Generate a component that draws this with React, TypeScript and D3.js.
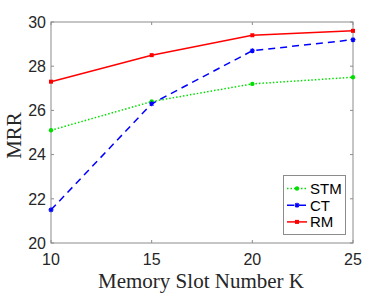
import React, { useEffect, useRef } from 'react';
import * as d3 from 'd3';

const slots = [10, 15, 20, 25];
const stm = [25.1, 26.4, 27.2, 27.5];
const ct = [21.5, 26.3, 28.7, 29.2];
const rm = [27.3, 28.5, 29.4, 29.6];
const yTicks = [20, 22, 24, 26, 28, 30];

const series = [
	{ name: 'STM', values: stm, color: '#00e000', dash: '1.5,2', marker: 'dot' },
	{ name: 'CT', values: ct, color: '#0000ff', dash: '7,5', marker: 'star' },
	{ name: 'RM', values: rm, color: '#ff0000', dash: null, marker: 'square' },
];

function App() {
	const svgRef = useRef(null);

	useEffect(() => {
		const w = 390;
		const h = 293;
		const m = { left: 51, right: 37, top: 22, bottom: 50 };
		const svg = d3.select(svgRef.current)
			.attr('width', w)
			.attr('height', h);
		svg.selectAll('*').remove();

		const x = d3.scaleLinear().domain([10, 25]).range([m.left, w - m.right]);
		const y = d3.scaleLinear().domain([20, 30]).range([h - m.bottom, m.top]);
		const axisColor = '#8c8c8c';
		const textColor = '#262626';
		const sans = 'Liberation Sans, Arial, sans-serif';
		const serif = 'Liberation Serif, Times New Roman, serif';

		// frame
		svg.append('rect')
			.attr('x', m.left).attr('y', m.top)
			.attr('width', w - m.left - m.right).attr('height', h - m.top - m.bottom)
			.attr('fill', 'white').attr('stroke', axisColor).attr('stroke-width', 1);

		// ticks (inward)
		slots.forEach(v => {
			svg.append('line').attr('x1', x(v)).attr('x2', x(v))
				.attr('y1', y(20)).attr('y2', y(20) - 3).attr('stroke', axisColor);
			svg.append('line').attr('x1', x(v)).attr('x2', x(v))
				.attr('y1', y(30)).attr('y2', y(30) + 3).attr('stroke', axisColor);
			svg.append('text').attr('x', x(v)).attr('y', y(20) + 22)
				.attr('text-anchor', 'middle').attr('font-family', sans)
				.attr('font-size', 16).attr('fill', textColor).text(v);
		});
		yTicks.forEach(v => {
			svg.append('line').attr('x1', x(10)).attr('x2', x(10) + 3)
				.attr('y1', y(v)).attr('y2', y(v)).attr('stroke', axisColor);
			svg.append('line').attr('x1', x(25)).attr('x2', x(25) - 3)
				.attr('y1', y(v)).attr('y2', y(v)).attr('stroke', axisColor);
			svg.append('text').attr('x', x(10) - 5).attr('y', y(v))
				.attr('dy', '0.36em')
				.attr('text-anchor', 'end').attr('font-family', sans)
				.attr('font-size', 16).attr('fill', textColor).text(v);
		});

		// axis labels
		svg.append('text').attr('x', (m.left + w - m.right) / 2 - 1).attr('y', 288)
			.attr('text-anchor', 'middle').attr('font-family', serif)
			.attr('font-size', 21).attr('fill', textColor).text('Memory Slot Number K');
		svg.append('text')
			.attr('transform', `translate(21,${(m.top + h - m.bottom) / 2 + 3}) rotate(-90)`)
			.attr('text-anchor', 'middle').attr('font-family', serif)
			.attr('font-size', 21).attr('fill', textColor).text('MRR');

		const line = d3.line<number>()
			.x((d, i) => x(slots[i]))
			.y(d => y(d));

		const drawMarker = (g, kind, cx, cy, color) => {
			if (kind === 'dot') {
				g.append('circle').attr('cx', cx).attr('cy', cy).attr('r', 2.2).attr('fill', color);
			} else if (kind === 'star') {
				g.append('path')
					.attr('d', `M${cx - 2.5},${cy}H${cx + 2.5}M${cx},${cy - 2.5}V${cy + 2.5}M${cx - 1.8},${cy - 1.8}L${cx + 1.8},${cy + 1.8}M${cx - 1.8},${cy + 1.8}L${cx + 1.8},${cy - 1.8}`)
					.attr('stroke', color).attr('stroke-width', 1.2);
			} else {
				g.append('rect').attr('x', cx - 2).attr('y', cy - 2).attr('width', 4).attr('height', 4)
					.attr('fill', color);
			}
		};

		series.forEach(s => {
			const g = svg.append('g');
			g.append('path')
				.attr('d', line(s.values))
				.attr('fill', 'none')
				.attr('stroke', s.color)
				.attr('stroke-width', 1.5)
				.attr('stroke-dasharray', s.dash);
			s.values.forEach((v, i) => drawMarker(g, s.marker, x(slots[i]), y(v), s.color));
		});

		// legend
		const lg = svg.append('g');
		lg.append('rect').attr('x', 283.5).attr('y', 175.5).attr('width', 62).attr('height', 59)
			.attr('fill', 'white').attr('stroke', axisColor);
		series.forEach((s, i) => {
			const ly = 188.5 + i * 16.7;
			lg.append('line').attr('x1', 287).attr('x2', 307).attr('y1', ly).attr('y2', ly)
				.attr('stroke', s.color).attr('stroke-width', 1.5).attr('stroke-dasharray', s.dash);
			drawMarker(lg, s.marker, 297, ly, s.color);
			lg.append('text').attr('x', 310).attr('y', ly).attr('dy', '0.36em')
				.attr('font-family', sans).attr('font-size', 15)
				.attr('fill', '#000').text(s.name);
		});
	}, []);

	return (
		<div style={{ position: 'absolute', left: 0, top: 0 }}>
			<svg ref={svgRef} style={{ display: 'block' }} />
		</div>
	);
}

export default App;
